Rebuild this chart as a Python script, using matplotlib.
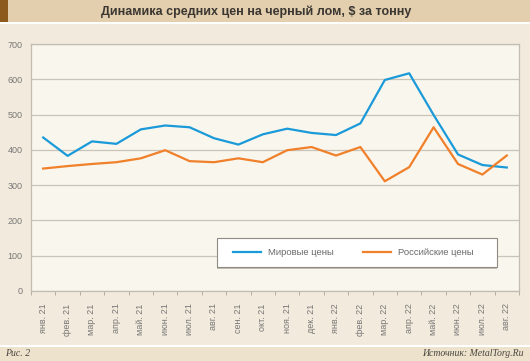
import matplotlib
matplotlib.use("Agg")
import matplotlib.pyplot as plt
from matplotlib.patches import Rectangle

# monthly average scrap prices, $/t
months = ["янв. 21", "фев. 21", "мар. 21", "апр. 21", "май. 21", "июн. 21",
          "июл. 21", "авг. 21", "сен. 21", "окт. 21", "ноя. 21", "дек. 21",
          "янв. 22", "фев. 22", "мар. 22", "апр. 22", "май. 22", "июн. 22",
          "июл. 22", "авг. 22"]
world = [435, 383, 424, 417, 458, 469, 464, 433, 415, 444, 460, 448,
         442, 475, 598, 617, 499, 387, 357, 350]
russia = [347, 354, 360, 365, 376, 399, 368, 365, 376, 365, 399, 408,
          384, 408, 311, 351, 464, 360, 330, 384]
yticks = [0, 100, 200, 300, 400, 500, 600, 700]

plt.rcParams['font.family'] = ['Liberation Sans', 'DejaVu Sans']

fig = plt.figure(figsize=(5.30, 3.61), dpi=100)
fig.patch.set_facecolor('#f2eadc')

# title band + brown stripe
fig.patches.append(Rectangle((0, 1 - 22/361), 1, 22/361, transform=fig.transFigure,
                             facecolor='#e3cfae', edgecolor='none', zorder=0))
fig.patches.append(Rectangle((0, 1 - 22/361), 8/530, 22/361, transform=fig.transFigure,
                             facecolor='#8c5a1c', edgecolor='none', zorder=1))
fig.patches.append(Rectangle((0, 1 - 24/361), 1, 2/361, transform=fig.transFigure,
                             facecolor='#ffffff', edgecolor='none', zorder=0))
# bottom band
fig.patches.append(Rectangle((0, 0), 1, 14/361, transform=fig.transFigure,
                             facecolor='#ede2cc', edgecolor='none', zorder=0))
fig.patches.append(Rectangle((0, 14/361), 1, 2/361, transform=fig.transFigure,
                             facecolor='#ffffff', edgecolor='none', zorder=0))

fig.text(256/530, 1 - 11.5/361, "Динамика средних цен на черный лом, $ за тонну",
         ha='center', va='center', fontsize=9, fontweight='bold', color='#3a3631')
fig.text(5/530, 7/361, "Рис. 2", ha='left', va='center', fontsize=7,
         style='italic', family=['Liberation Serif', 'DejaVu Serif'], color='#4a4540')
fig.text(524/530, 7/361, "Источник: MetalTorg.Ru", ha='right', va='center', fontsize=7,
         style='italic', family=['Liberation Serif', 'DejaVu Serif'], color='#4a4540')

ax = fig.add_axes([31/530, 70/361, 488/530, 247/361])
ax.set_facecolor('#f9f6ee')

x = list(range(len(months)))
ax.plot(x, world, color='#1a9ad8', lw=1.6, label='Мировые цены', zorder=3)
ax.plot(x, russia, color='#f0802a', lw=1.6, label='Российские цены', zorder=3)

ax.set_xlim(-0.5, len(months) - 0.5)
ax.set_ylim(0, 700)
ax.set_yticks(yticks)
ax.set_yticklabels([str(v) for v in yticks])
ax.yaxis.grid(True, color='#c9c3b8', lw=0.9)
ax.set_axisbelow(True)

ax.set_xticks(x)
ax.set_xticklabels(months, rotation=90)
ax.set_xticks([i - 0.5 for i in range(len(months) + 1)], minor=True)
ax.tick_params(axis='x', which='major', length=0, pad=9, labelsize=6.5, labelcolor='#777777')
ax.tick_params(axis='x', which='minor', length=3, color='#a8a398', direction='out')
ax.tick_params(axis='y', length=0, pad=6, labelsize=6.5, labelcolor='#777777')

for sp in ax.spines.values():
    sp.set_color('#c2bcb1')
    sp.set_linewidth(0.9)

# legend box drawn by hand (box + soft shadow), entries placed inside it
shadow = Rectangle((0.381, 0.091), 0.574, 0.117, transform=ax.transAxes,
                   facecolor='#c3beb5', edgecolor='none', zorder=4)
box = Rectangle((0.381, 0.097), 0.574, 0.117, transform=ax.transAxes,
                facecolor='#ffffff', edgecolor='#8f8a82', lw=0.8, zorder=5)
ax.add_patch(shadow)
ax.add_patch(box)
leg = ax.legend(loc='center left', bbox_to_anchor=(0.414, 0.156), ncol=2,
                fontsize=6.8, frameon=False, handlelength=3.0, handletextpad=0.75,
                columnspacing=3.0, borderpad=0, borderaxespad=0)
leg.set_zorder(6)
for t in leg.get_texts():
    t.set_color('#6a6a6a')

fig.savefig("out.png", dpi=100, facecolor=fig.get_facecolor())
